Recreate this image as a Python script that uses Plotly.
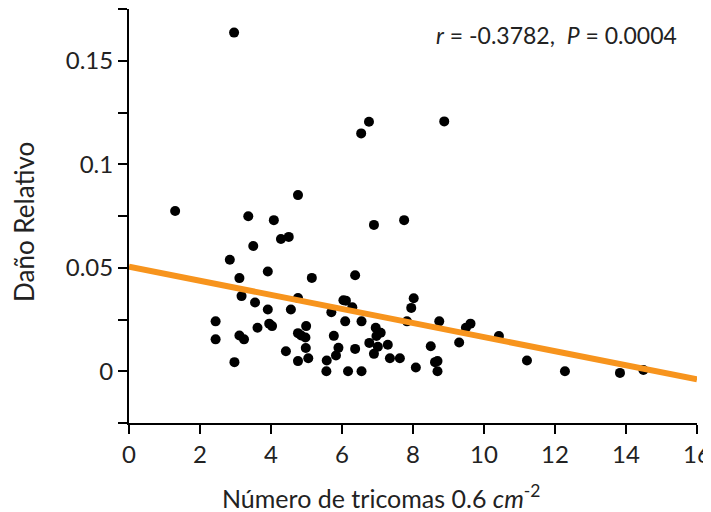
import plotly.graph_objects as go

# Data
tricomas = [1.30, 4.76, 3.36, 4.08, 4.28, 4.50, 3.50, 2.84, 3.91, 3.11, 5.15, 6.37, 6.90, 7.75,
            3.17, 3.55, 3.91, 4.56, 4.76, 6.04, 6.11, 5.70, 6.29, 8.02, 7.95, 7.83,
            2.44, 2.44, 2.97, 3.11, 3.24, 3.62, 3.95, 4.03, 4.42, 4.76, 4.85, 4.97, 4.99, 4.98,
            4.76, 5.05, 5.77, 6.09, 6.55, 5.90, 5.83, 5.57, 5.56, 6.17, 6.55, 6.37,
            6.95, 7.09, 6.97, 6.77, 7.01, 7.29, 6.90, 7.35, 7.63, 8.08,
            8.74, 8.50, 8.69, 8.62, 8.69, 9.30, 9.49, 9.62, 10.42, 11.21, 12.28, 13.83, 14.49,
            2.96, 6.54, 6.76, 8.88]
dano = [0.0774, 0.0851, 0.0749, 0.0730, 0.0639, 0.0649, 0.0605, 0.0539, 0.0482, 0.0450, 0.0451, 0.0464, 0.0707, 0.0730,
        0.0363, 0.0332, 0.0298, 0.0298, 0.0354, 0.0343, 0.0341, 0.0285, 0.0309, 0.0353, 0.0306, 0.0241,
        0.0241, 0.0154, 0.0044, 0.0173, 0.0154, 0.0210, 0.0230, 0.0218, 0.0097, 0.0184, 0.0173, 0.0163, 0.0218, 0.0112,
        0.0049, 0.0063, 0.0171, 0.0241, 0.0241, 0.0113, 0.0076, 0.0052, 0.0000, 0.0000, 0.0000, 0.0108,
        0.0210, 0.0186, 0.0170, 0.0137, 0.0118, 0.0128, 0.0084, 0.0063, 0.0063, 0.0018,
        0.0241, 0.0121, 0.0049, 0.0044, 0.0000, 0.0139, 0.0210, 0.0230, 0.0170, 0.0052, 0.0000, -0.0008, 0.0006,
        0.1636, 0.1149, 0.1205, 0.1207]

# Regression line
line_intercept = 0.0505
line_slope = -0.0034
line_x = [0, 16]
line_y = [line_intercept + line_slope * v for v in line_x]

y_tickvals = [0, 0.05, 0.1, 0.15]
y_ticktext = ["0", "0.05", "0.1", "0.15"]
y_minor = [-0.025, 0.025, 0.075, 0.125, 0.175]
x_tickvals = [0, 2, 4, 6, 8, 10, 12, 14, 16]

x_title = "Número de tricomas 0.6 <i>cm</i><sup>-2</sup>"
y_title = "Daño Relativo"
stats_text = "<i>r</i> = -0.3782,  <i>P</i> = 0.0004"

FONT = "Lato"
TXT = "#222222"

fig = go.Figure()
fig.add_trace(go.Scatter(x=tricomas, y=dano, mode="markers",
                         marker=dict(color="black", size=10), showlegend=False,
                         cliponaxis=False))
fig.add_trace(go.Scatter(x=line_x, y=line_y, mode="lines",
                         line=dict(color="#F7941D", width=6), showlegend=False))

# page body has an 8px margin, so the figure is sized to the visible area
fig.update_layout(
    width=703, height=504,
    margin=dict(l=121, r=14, t=1, b=89),
    plot_bgcolor="white", paper_bgcolor="white",
    font=dict(family=FONT, color=TXT),
    xaxis=dict(range=[0, 16], tickvals=x_tickvals, showgrid=False, zeroline=False,
               automargin=False,
               showline=True, linecolor="black", linewidth=2,
               ticks="outside", ticklen=9, tickwidth=2, tickcolor="black",
               tickfont=dict(size=24, family=FONT, color=TXT)),
    yaxis=dict(range=[-0.025, 0.175], tickvals=y_tickvals, ticktext=y_ticktext,
               showgrid=False, zeroline=False, automargin=False,
               showline=True, linecolor="black", linewidth=2,
               ticks="outside", ticklen=9, tickwidth=2, tickcolor="black",
               tickfont=dict(size=24, family=FONT, color=TXT),
               minor=dict(tickvals=y_minor, ticks="outside",
                          ticklen=9, tickwidth=2, tickcolor="black", showgrid=False)),
    annotations=[
        dict(x=15.5, y=0.1625, xref="x", yref="y", xanchor="right", yanchor="middle",
             text=stats_text, showarrow=False,
             font=dict(size=23, family=FONT, color=TXT)),
        dict(x=0.4454, y=-0.178, xref="paper", yref="paper", xanchor="center", yanchor="middle",
             text=x_title, showarrow=False, font=dict(size=25, family=FONT, color=TXT)),
        dict(x=-0.185, y=0.4855, xref="paper", yref="paper", xanchor="center", yanchor="middle",
             text=y_title, textangle=-90, showarrow=False,
             font=dict(size=26, family=FONT, color=TXT)),
    ],
)

fig.write_html("out.html")
